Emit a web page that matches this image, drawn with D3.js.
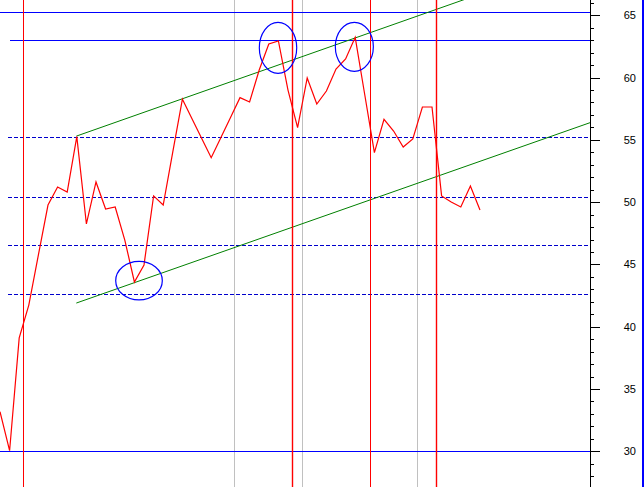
<!DOCTYPE html>
<html>
<head>
<meta charset="utf-8">
<script src="https://cdn.jsdelivr.net/npm/d3@7"></script>
<style>
html,body{margin:0;padding:0;background:#fff;}
svg{display:block;}
</style>
</head>
<body>
<script>
// ---- data ----
const prices = [33.18,30.05,39.10,41.74,45.76,49.77,51.22,50.81,55.26,48.25,
  51.62,49.45,49.61,46.96,43.59,44.96,50.50,49.77,54.03,58.26,
  56.69,55.13,53.57,55.17,56.78,58.39,58.04,60.61,62.70,62.94,
  59.00,55.99,59.97,57.88,58.92,60.69,61.49,63.23,58.60,53.97,
  56.65,55.71,54.43,55.07,57.64,57.64,50.50,50.01,49.61,51.30,49.37];
const solidLevels = [
  {v:65.27, from:0},
  {v:63.02, from:1.05},
  {v:30.00, from:0}
];
const dashedLevels = [55.23, 50.39, 46.54, 42.60];
const dashedFrom = 0.85;
const redVerticals = [2.43, 30.45, 38.51, 45.45];
const redWidths = [1, 1.4, 1, 1.4];
const grayVerticals = [24.41, 31.49, 43.47];
const upperChannel = [{i:7.95, v:55.30},{i:61.46, v:69.82}];
const lowerChannel = [{i:7.95, v:41.90},{i:61.46, v:56.38}];
const circles = [{i:14.48, v:43.70},{i:28.96, v:62.39},{i:36.91, v:62.47}];
const yTicksMajor = [30,35,40,45,50,55,60,65];
const yTicksMinor = d3.range(28,67);

// ---- layout ----
const W = 644, H = 487;
const plotRight = 590;
const x = d3.scaleLinear().domain([0, 50]).range([0, 480]);
const y = d3.scaleLinear().domain([30, 65]).range([451.3, 15.3]);

const svg = d3.select("body").append("svg").attr("width", W).attr("height", H);
svg.append("rect").attr("width", W).attr("height", H).attr("fill", "#fff");

svg.append("defs").append("clipPath").attr("id","plotclip")
  .append("rect").attr("x",0).attr("y",0).attr("width",plotRight).attr("height",H);

const g = svg.append("g").attr("clip-path","url(#plotclip)");

// gray verticals
g.selectAll("line.gv").data(grayVerticals).join("line")
  .attr("x1", d=>Math.round(x(d))+0.5).attr("x2", d=>Math.round(x(d))+0.5)
  .attr("y1",0).attr("y2",H).attr("stroke","#c0c0c0").attr("stroke-width",1);

// dashed levels
g.selectAll("line.dl").data(dashedLevels).join("line")
  .attr("x1", x(dashedFrom)).attr("x2", plotRight)
  .attr("y1", d=>Math.round(y(d))+0.5).attr("y2", d=>Math.round(y(d))+0.5)
  .attr("stroke","#0000cc").attr("stroke-width",1).attr("stroke-dasharray","4,2")
  .attr("shape-rendering","crispEdges");

// solid levels
g.selectAll("line.sl").data(solidLevels).join("line")
  .attr("x1", d=>x(d.from)).attr("x2", plotRight)
  .attr("y1", d=>Math.round(y(d.v))+0.5).attr("y2", d=>Math.round(y(d.v))+0.5)
  .attr("stroke","#0000ff").attr("stroke-width",1)
  .attr("shape-rendering","crispEdges");

// channel lines
const cl = d3.line().x(d=>x(d.i)).y(d=>y(d.v));
[upperChannel, lowerChannel].forEach(c=>{
  g.append("path").attr("d", cl(c)).attr("fill","none")
   .attr("stroke","#008000").attr("stroke-width",1);
});

// red verticals
g.selectAll("line.rv").data(redVerticals).join("line")
  .attr("x1", d=>Math.round(x(d))+0.5)
  .attr("x2", d=>Math.round(x(d))+0.5)
  .attr("y1",0).attr("y2",H).attr("stroke","#ff0000")
  .attr("stroke-width",(d,k)=>redWidths[k]);

// price line
const pl = d3.line().x((d,i)=>x(i)).y(d=>y(d));
g.append("path").attr("d", pl(prices)).attr("fill","none")
  .attr("stroke","#ff0000").attr("stroke-width",1.2);

// circles
const rads = [[23.3,19.3],[18.7,25.5],[19,24.5]];
g.selectAll("ellipse").data(circles).join("ellipse")
  .attr("cx", d=>x(d.i)).attr("cy", d=>y(d.v))
  .attr("rx", (d,k)=>rads[k][0]).attr("ry", (d,k)=>rads[k][1])
  .attr("fill","none").attr("stroke","#0000ff").attr("stroke-width",1.2);

// right axis
const ax = svg.append("g").attr("shape-rendering","crispEdges");
ax.append("line").attr("x1",plotRight+0.5).attr("x2",plotRight+0.5)
  .attr("y1",0).attr("y2",H).attr("stroke","#000").attr("stroke-width",1);
ax.selectAll("line.mi").data(yTicksMinor.filter(v=>y(v)>=0 && y(v)<=H)).join("line")
  .attr("x1",plotRight).attr("x2",plotRight+3.5)
  .attr("y1",d=>Math.round(y(d))+0.5).attr("y2",d=>Math.round(y(d))+0.5)
  .attr("stroke","#000");
ax.selectAll("line.ma").data(yTicksMajor).join("line")
  .attr("x1",plotRight).attr("x2",plotRight+9.5)
  .attr("y1",d=>Math.round(y(d))+0.5).attr("y2",d=>Math.round(y(d))+0.5)
  .attr("stroke","#000");
svg.selectAll("text.yl").data(yTicksMajor).join("text")
  .attr("x",636).attr("y",d=>y(d)+4)
  .attr("text-anchor","end")
  .attr("font-family","'Liberation Sans', Arial, sans-serif")
  .attr("font-size","11px").attr("fill","#000")
  .text(d=>d);

// right border
svg.append("line").attr("x1",643).attr("x2",643).attr("y1",0).attr("y2",H)
  .attr("stroke","#0000ff").attr("stroke-width",2);
</script>
</body>
</html>
